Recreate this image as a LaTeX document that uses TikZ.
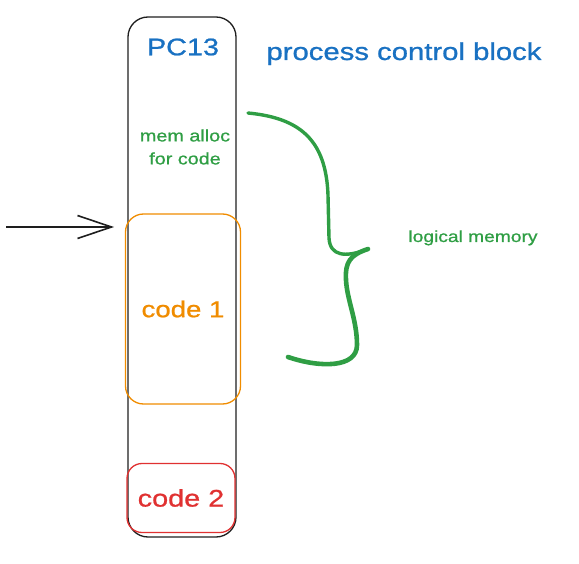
\documentclass[tikz,border=0pt]{standalone}
\usepackage{fontspec}
\setmainfont[FakeStretch=1.2,FakeBold=0.9]{Liberation Sans}
\usepackage{tikz}
\usetikzlibrary{arrows.meta,positioning}
\definecolor{pcbblue}{HTML}{1971C2}
\definecolor{memgreen}{HTML}{2F9E44}
\definecolor{codeorange}{HTML}{F08C00}
\definecolor{codered}{HTML}{E03131}
\definecolor{inkblack}{HTML}{1E1E1E}

\begin{document}
\begin{tikzpicture}[x=1pt,y=-1pt]

        % Setup the styles for the blocks
        \tikzset{block style/.style={draw=inkblack,
                                     line width=1.3pt,
                                     rounded corners=20pt,
                                     minimum width=108pt,
                                     minimum height=520pt},
                 code style/.style={line width=1.3pt,
                                    inner sep=0pt},
                 brace style/.style={draw=memgreen,
                                     line cap=round,
                                     line join=round}}
        \useasboundingbox (0,0) rectangle (579,564);

        % Draw the blocks
        \node[block style] at (182, 277)     (pcb)     {};
        \node[text=pcbblue,font=\fontsize{24}{28}\selectfont] at (183, 47)     (pcname)     {PC13};
        \node[text=pcbblue,font=\fontsize{24.4}{28}\selectfont,anchor=base] at (404, 60)     (pcblabel)     {process control block};
        \node[text=memgreen,font=\fontsize{16.5}{23}\selectfont,align=center] at (185, 147)     (memalloc)     {mem alloc\\for code};
        \node[code style,draw=codeorange,text=codeorange,rounded corners=18pt,
              minimum width=115pt,minimum height=190pt,font=\fontsize{23}{27}\selectfont] at (183, 309)     (code1)     {code 1};
        \node[code style,draw=codered,text=codered,rounded corners=15pt,
              minimum width=108pt,minimum height=69pt,font=\fontsize{24}{28}\selectfont] at (181, 498)     (code2)     {code 2};
        \node[text=memgreen,font=\fontsize{16}{20}\selectfont,anchor=base] at (473, 242)     (logmem)     {logical memory};

        % Connect the entry arrow
        \coordinate (src) at (6, 227);
        \coordinate (dst) at (114, 227);
        \draw[inkblack,line width=1.6pt,-{Straight Barb[length=34pt,width=23pt,line width=1.6pt]}] (src) -- (dst);

        % Draw the brace
        \coordinate (bracetop) at (248, 113);
        \coordinate (bracetip) at (368, 249);
        \coordinate (bracebot) at (288, 357);
        \draw[brace style,line width=3.4pt]
            (bracetop) .. controls (300, 118) and (326, 140) .. (328, 195)
            -- (329, 238) .. controls (330, 256) and (345, 258) .. (bracetip);
        \draw[brace style,line width=4.6pt]
            (bracetip) .. controls (350, 255) and (345, 262) .. (346, 280)
            .. controls (347, 300) and (357, 320) .. (357, 345)
            .. controls (357, 368) and (320, 368) .. (bracebot);
    \end{tikzpicture}
\end{document}
